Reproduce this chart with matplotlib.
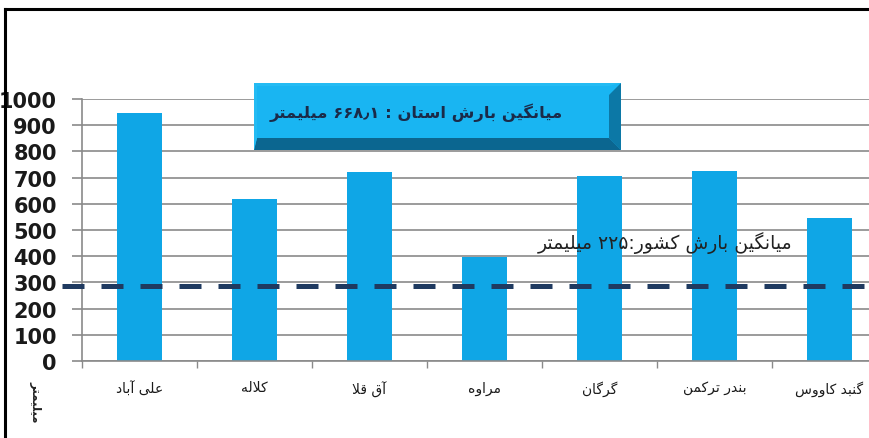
import matplotlib
matplotlib.use("Agg")
import matplotlib.pyplot as plt
from matplotlib.patches import Polygon, Rectangle
from matplotlib.lines import Line2D

# ---------------- data ----------------
stations = ["علی آباد", "کلاله", "آق قلا", "مراوه", "گرگان", "بندر ترکمن", "گنبد کاووس"]
rainfall = [947, 620, 721, 398, 707, 724, 546]
national_line_value = 286
y_ticks = [0, 100, 200, 300, 400, 500, 600, 700, 800, 900, 1000]
province_text = "میانگین بارش استان : ۶۶۸٫۱ میلیمتر"
national_text = "میانگین بارش کشور:۲۲۵ میلیمتر"
y_label = "میلیمتر"

# ------------- minimal Persian shaping -------------
FORMS = {
    "ا": ("\uFE8D", "\uFE8E", None, None),
    "آ": ("\uFE81", "\uFE82", None, None),
    "ب": ("\uFE8F", "\uFE90", "\uFE91", "\uFE92"),
    "ت": ("\uFE95", "\uFE96", "\uFE97", "\uFE98"),
    "د": ("\uFEA9", "\uFEAA", None, None),
    "ر": ("\uFEAD", "\uFEAE", None, None),
    "س": ("\uFEB1", "\uFEB2", "\uFEB3", "\uFEB4"),
    "ش": ("\uFEB5", "\uFEB6", "\uFEB7", "\uFEB8"),
    "ع": ("\uFEC9", "\uFECA", "\uFECB", "\uFECC"),
    "ق": ("\uFED5", "\uFED6", "\uFED7", "\uFED8"),
    "ل": ("\uFEDD", "\uFEDE", "\uFEDF", "\uFEE0"),
    "م": ("\uFEE1", "\uFEE2", "\uFEE3", "\uFEE4"),
    "ن": ("\uFEE5", "\uFEE6", "\uFEE7", "\uFEE8"),
    "ه": ("\uFEE9", "\uFEEA", "\uFEEB", "\uFEEC"),
    "و": ("\uFEED", "\uFEEE", None, None),
    "ی": ("\uFBFC", "\uFBFD", "\uFBFE", "\uFBFF"),
    "ک": ("\uFB8E", "\uFB8F", "\uFB90", "\uFB91"),
    "گ": ("\uFB92", "\uFB93", "\uFB94", "\uFB95"),
    "LA": ("\uFEFB", "\uFEFC", None, None),
    "LAA": ("\uFEF5", "\uFEF6", None, None),
}
DIGITS = set("۰۱۲۳۴۵۶۷۸۹0123456789٫")


def shape(text):
    chars = []
    i = 0
    while i < len(text):
        c = text[i]
        if c == "ل" and i + 1 < len(text) and text[i + 1] in ("ا", "آ"):
            chars.append("LA" if text[i + 1] == "ا" else "LAA")
            i += 2
        else:
            chars.append(c)
            i += 1
    out = []
    for k, c in enumerate(chars):
        if c not in FORMS:
            out.append(c)
            continue
        prev = chars[k - 1] if k > 0 else None
        nxt = chars[k + 1] if k + 1 < len(chars) else None
        pj = prev in FORMS and FORMS[prev][2] is not None
        nj = FORMS[c][2] is not None and nxt in FORMS
        iso, fin, ini, med = FORMS[c]
        if pj and nj:
            out.append(med)
        elif pj:
            out.append(fin)
        elif nj:
            out.append(ini)
        else:
            out.append(iso)
    runs = []
    for ch in out:
        isd = ch in DIGITS
        if runs and runs[-1][0] == isd and isd:
            runs[-1][1].append(ch)
        else:
            runs.append([isd, [ch]])
    vis = []
    for isd, seq in reversed(runs):
        vis.extend(seq if isd else list(reversed(seq)))
    return "".join(vis)


# ---------------- figure ----------------
W, H = 870, 439
fig = plt.figure(figsize=(W / 100, H / 100), dpi=100)
fig.patch.set_facecolor("white")

ax_left = 82 / W
ax_bottom = (H - 362) / H
ax_width = 805 / W
ax_height = 262 / H
ax = fig.add_axes([ax_left, ax_bottom, ax_width, ax_height])

x = list(range(len(stations)))
ax.bar(x, rainfall, width=0.39, color="#0fa6e6", zorder=2)

ax.set_xlim(-0.5, len(stations) - 0.5)
ax.set_ylim(0, 1000)
ax.set_yticks(y_ticks)
ax.set_yticklabels([str(t) for t in y_ticks], fontsize=15, fontweight="bold",
                   color="#1a1a1a")
ax.yaxis.grid(True, color="#8a8a8a", linewidth=1.2, zorder=0)
ax.set_axisbelow(True)
ax.tick_params(axis="y", length=7, width=1.2, color="#8a8a8a", pad=11)

ax.set_xticks(x)
ax.set_xticklabels([shape(s) for s in stations], fontsize=10, family="DejaVu Sans",
                   color="#1a1a1a")
ax.set_xticks([i - 0.5 for i in range(len(stations) + 1)], minor=True)
ax.tick_params(axis="x", which="major", length=0, pad=14)
ax.tick_params(axis="x", which="minor", length=5, width=1.0, color="#8a8a8a")

for s in ("top", "right"):
    ax.spines[s].set_visible(False)
for s in ("left", "bottom"):
    ax.spines[s].set_color("#8a8a8a")
    ax.spines[s].set_linewidth(1.2)

# national average dashed line
ax.axhline(national_line_value, xmin=-0.025, xmax=1.0, color="#1f3a60",
           linewidth=3.6, linestyle=(0, (4.4, 3.4)), clip_on=False, zorder=3)

ax.text(0.724, 0.454, shape(national_text), transform=ax.transAxes,
        ha="center", va="center", fontsize=13.5, color="#222222", zorder=4)

# ---------------- bevelled box ----------------
def fx(px):
    return px / W


def fy(py):
    return 1 - py / H


x0, x1, y0, y1 = 254, 621, 84, 151
bev = 12
fig.patches.append(Rectangle((fx(x0), fy(y1)), fx(x1) - fx(x0), fy(y0) - fy(y1),
                             transform=fig.transFigure, facecolor="#19b5f2",
                             edgecolor="none", zorder=5))
fig.patches.append(Polygon([(fx(x1 - bev), fy(y0 + bev)), (fx(x1), fy(y0)),
                            (fx(x1), fy(y1)), (fx(x1 - bev), fy(y1 - bev))],
                           closed=True, transform=fig.transFigure,
                           facecolor="#0c78a6", edgecolor="none", zorder=6))
fig.patches.append(Polygon([(fx(x0), fy(y1)), (fx(x1), fy(y1)),
                            (fx(x1 - bev), fy(y1 - bev)), (fx(x0 + 3), fy(y1 - bev))],
                           closed=True, transform=fig.transFigure,
                           facecolor="#0b6690", edgecolor="none", zorder=6))
fig.patches.append(Polygon([(fx(x0), fy(y0)), (fx(x1), fy(y0)),
                            (fx(x1 - bev), fy(y0 + 3)), (fx(x0 + 3), fy(y0 + 3)),
                            (fx(x0 + 3), fy(y1 - bev)), (fx(x0), fy(y1))],
                           closed=True, transform=fig.transFigure,
                           facecolor="#24bbf3", edgecolor="none", zorder=6))
fig.text(fx(270), fy(113), shape(province_text), ha="left", va="center",
         fontsize=11.8, fontweight="bold", color="#1b2a48", zorder=7)

# y label
fig.text(fx(36), fy(402), shape(y_label), rotation=270, ha="center", va="center",
         fontsize=8.5, fontweight="bold", color="#222222")

# outer frame lines
fig.lines.append(Line2D([fx(5), fx(W)], [fy(10), fy(10)], transform=fig.transFigure,
                        color="black", linewidth=2.2))
fig.lines.append(Line2D([fx(5), fx(5)], [fy(10), fy(H)], transform=fig.transFigure,
                        color="black", linewidth=2.2))

fig.savefig("out.png", dpi=100)
